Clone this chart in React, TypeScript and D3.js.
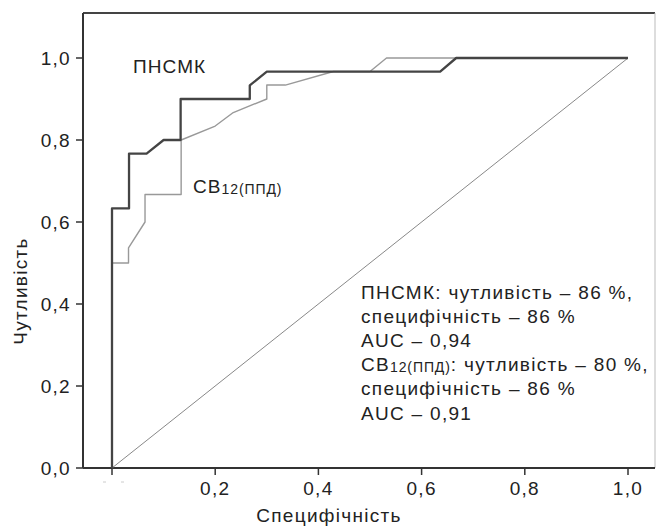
import React from "react";
import * as d3 from "d3";

const W = 656;
const H = 528;

// ROC curve: ПНСМК (dark)
const pnsmkFpr = [0, 0, 0.033, 0.033, 0.067, 0.1, 0.133, 0.133, 0.267, 0.267, 0.3, 0.636, 0.667, 1.0];
const pnsmkTpr = [0, 0.633, 0.633, 0.767, 0.767, 0.8, 0.8, 0.9, 0.9, 0.933, 0.967, 0.967, 1.0, 1.0];

// ROC curve: СВ12(ППД) (light)
const cbFpr = [0, 0, 0.032, 0.032, 0.064, 0.064, 0.134, 0.134, 0.2, 0.235, 0.3, 0.3, 0.336, 0.429, 0.5, 0.532, 1.0];
const cbTpr = [0, 0.5, 0.5, 0.537, 0.6, 0.667, 0.667, 0.8, 0.834, 0.867, 0.9, 0.934, 0.934, 0.967, 0.967, 1.0, 1.0];

const xTickValues = [0, 0.2, 0.4, 0.6, 0.8, 1.0];
const yTickValues = [0, 0.2, 0.4, 0.6, 0.8, 1.0];

const xTitle = "Специфічність";
const yTitle = "Чутливість";

const FONT = "'Liberation Sans', Arial, Helvetica, sans-serif";

export default function App() {
  const x = d3.scaleLinear().domain([0, 1]).range([112, 628]);
  const y = d3.scaleLinear().domain([0, 1]).range([468, 58]);
  const fmt = (v: number) => d3.format(".1f")(v).replace(".", ",");

  const line = d3
    .line<[number, number]>()
    .x((d) => x(d[0]))
    .y((d) => y(d[1]));

  const pnsmk: [number, number][] = pnsmkFpr.map((f, i) => [f, pnsmkTpr[i]]);
  const cb: [number, number][] = cbFpr.map((f, i) => [f, cbTpr[i]]);
  const diag: [number, number][] = [
    [0, 0],
    [1, 1],
  ];

  const left = 83;
  const top = 13;
  const right = 655;
  const bottom = 468;

  const fs = 19;
  const ls = 1.3;
  const lines = [
    { main: "ПНСМК: чутливість – 86 %,", sub: null },
    { main: "специфічність – 86 %", sub: null },
    { main: "AUC – 0,94", sub: null },
    { main: "CB", sub: "12(ППД)", rest: ": чутливість – 80 %," },
    { main: "специфічність – 86 %", sub: null },
    { main: "AUC – 0,91", sub: null },
  ];

  return (
    <svg
      width={W}
      height={H}
      viewBox={`0 0 ${W} ${H}`}
      style={{ position: "absolute", left: 0, top: 0, background: "#fff" }}
      fontFamily={FONT}
    >
      <rect x={0} y={0} width={W} height={H} fill="#fff" />
      {/* frame */}
      <line x1={left} y1={top} x2={right} y2={top} stroke="#444" strokeWidth={1.8} />
      <line x1={right} y1={top} x2={right} y2={bottom} stroke="#bbb" strokeWidth={1} />
      <line x1={left} y1={top} x2={left} y2={bottom} stroke="#333" strokeWidth={2} />
      <line x1={left} y1={bottom} x2={right} y2={bottom} stroke="#333" strokeWidth={2} />

      {/* y ticks */}
      {yTickValues.map((v) => (
        <g key={"y" + v} transform={`translate(0,${y(v)})`}>
          <line x1={left - 7} x2={left} stroke="#333" strokeWidth={1.5} />
          <text x={left - 12} dy="0.36em" textAnchor="end" fontSize={fs} letterSpacing={ls} fill="#222">
            {fmt(v)}
          </text>
        </g>
      ))}

      {/* x ticks */}
      {xTickValues.map((v) => (
        <g key={"x" + v} transform={`translate(${x(v)},0)`}>
          <line y1={bottom} y2={bottom + 7} stroke="#333" strokeWidth={1.5} />
          {v > 0 && (
            <text y={bottom + 27} textAnchor="middle" fontSize={fs} letterSpacing={ls} fill="#222">
              {fmt(v)}
            </text>
          )}
        </g>
      ))}
      {/* faint remnants below x=0 */}
      <line x1={x(0) - 9} x2={x(0) - 6} y1={482} y2={482} stroke="#ccc" strokeWidth={1} />
      <line x1={x(0) + 9} x2={x(0) + 12} y1={482} y2={482} stroke="#ccc" strokeWidth={1} />

      {/* axis titles */}
      <text x={329} y={522} textAnchor="middle" fontSize={fs} letterSpacing={ls} fill="#222">
        {xTitle}
      </text>
      <text
        transform={`translate(27,291) rotate(-90)`}
        textAnchor="middle"
        fontSize={fs}
        letterSpacing={ls}
        fill="#222"
      >
        {yTitle}
      </text>

      {/* diagonal */}
      <path d={line(diag) || ""} fill="none" stroke="#888" strokeWidth={1} />

      {/* curves */}
      <path d={line(cb) || ""} fill="none" stroke="#999" strokeWidth={1.4} strokeLinejoin="round" />
      <path d={line(pnsmk) || ""} fill="none" stroke="#444" strokeWidth={2.3} strokeLinejoin="round" />

      {/* curve labels */}
      <text x={133} y={73} fontSize={fs} letterSpacing={1.1} fill="#222">
        ПНСМК
      </text>
      <text x={193} y={193} fontSize={fs} letterSpacing={1.1} fill="#222">
        CB
        <tspan fontSize={14} dy={1} letterSpacing={0.9}>
          12(ППД)
        </tspan>
      </text>

      {/* annotation */}
      {lines.map((l, i) => (
        <text key={i} x={361} y={299 + i * 24.1} fontSize={fs} letterSpacing={ls} fill="#222">
          {l.main}
          {l.sub && (
            <>
              <tspan fontSize={14} dy={1} letterSpacing={0.9}>
                {l.sub}
              </tspan>
              <tspan dy={-1}>{(l as any).rest}</tspan>
            </>
          )}
        </text>
      ))}
    </svg>
  );
}
